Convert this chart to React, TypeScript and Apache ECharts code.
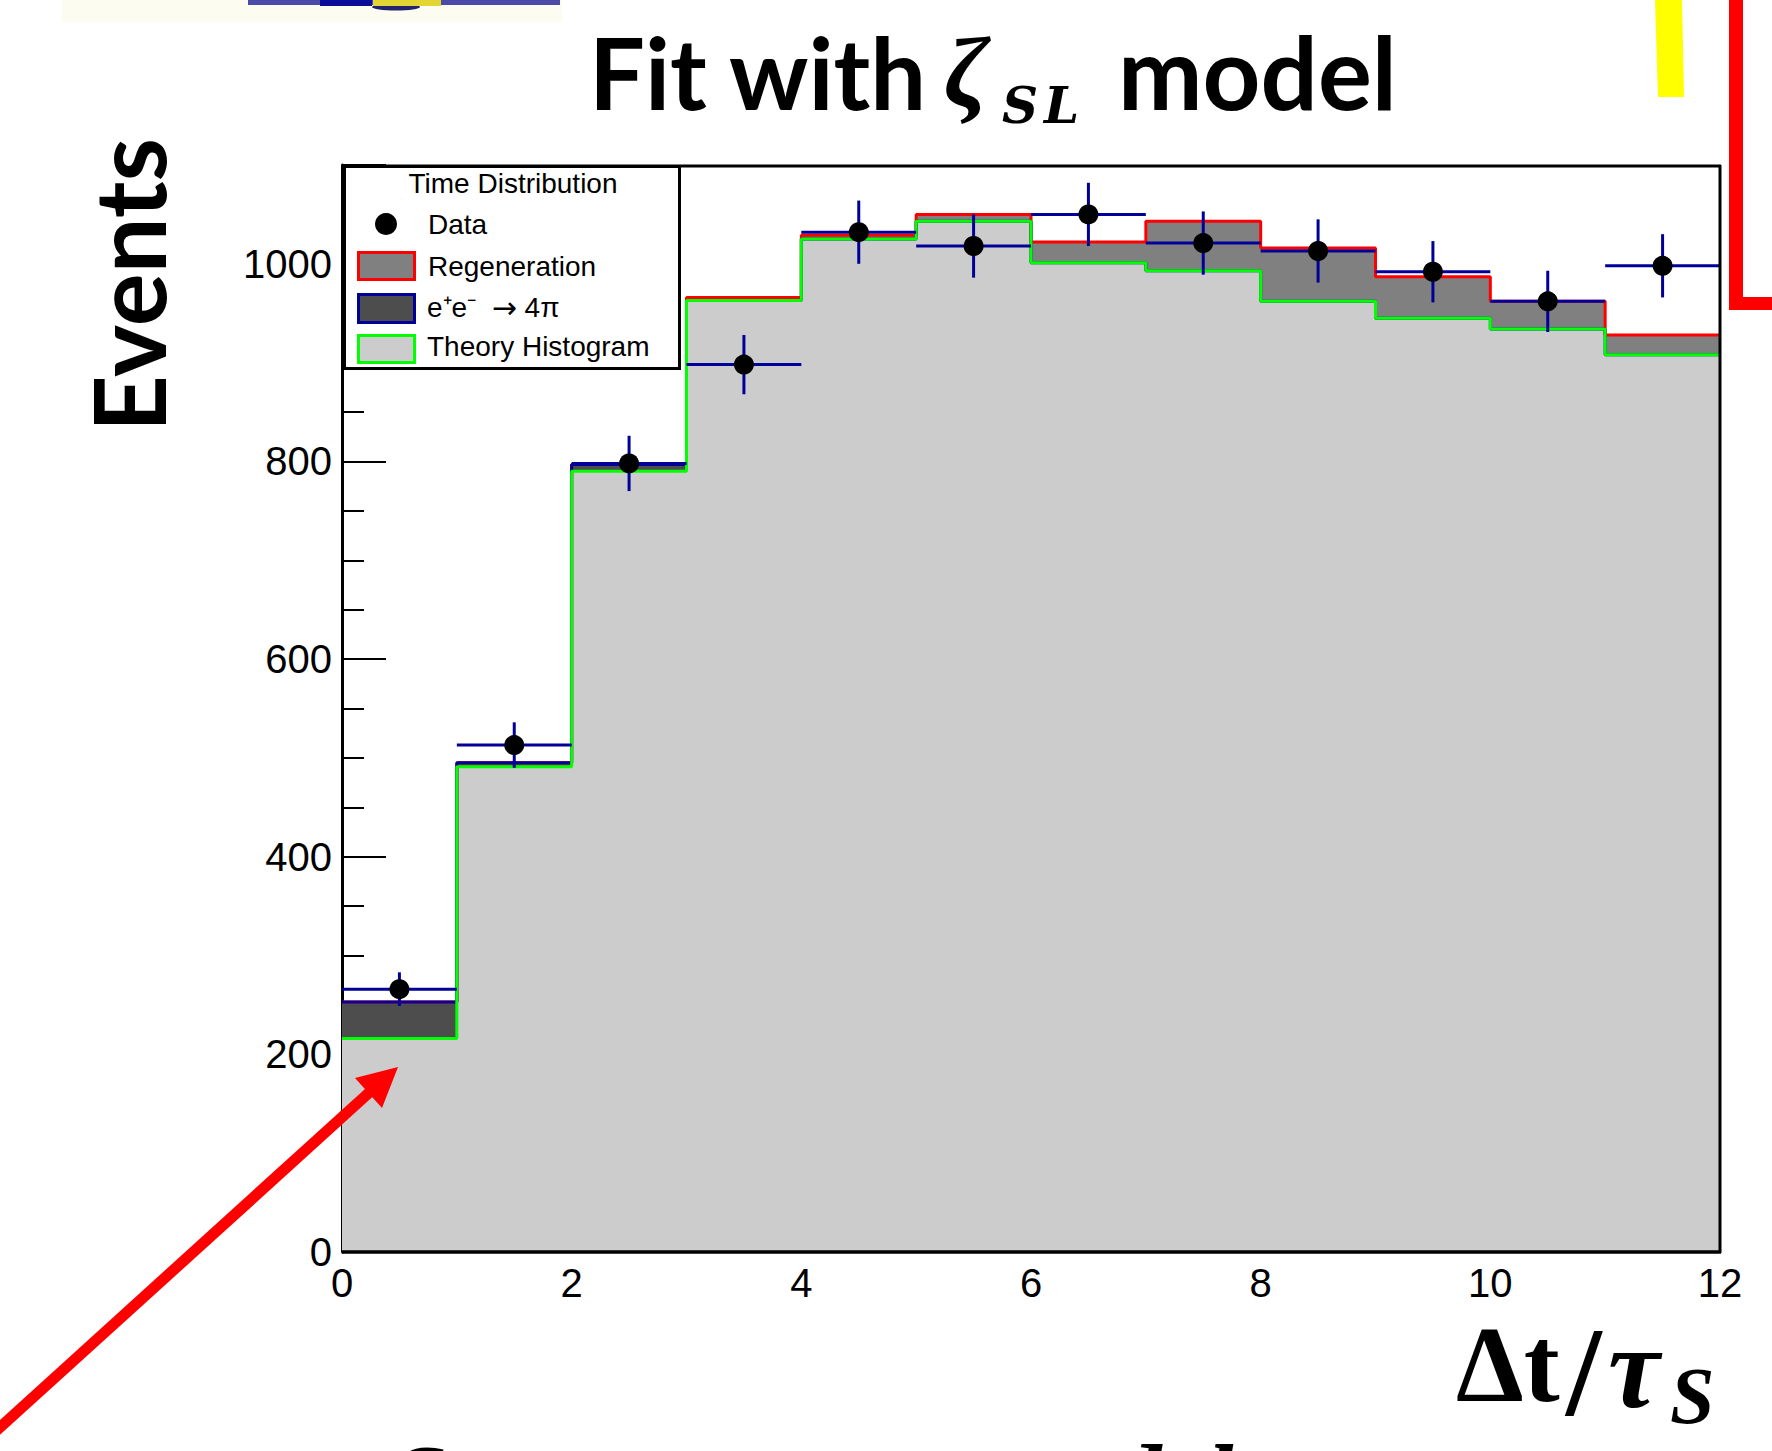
import React, { useEffect, useRef } from "react";
import * as echarts from "echarts";

// ---- data ----
const binEdges = [0, 1, 2, 3, 4, 5, 6, 7, 8, 9, 10, 11, 12];
const theoryHist = [216, 491, 790, 963, 1025, 1043, 1001, 993, 962, 945, 934, 908];
const fourPiHist = [37, 4, 7, 0, 0, 0, 0, 0, 0, 0, 0, 0];
const regenerationHist = [0, 0, 0, 3, 4, 7, 21, 50, 54, 42, 28, 20];
const dataCounts = [266, 513, 798, 898, 1032, 1018, 1050, 1021, 1013, 992, 962, 998];
const dataErrors = [17, 23, 28, 30, 32, 32, 32, 32, 32, 31, 31, 32];
const xTickLabels = [0, 2, 4, 6, 8, 10, 12];
const yTickLabels = [0, 200, 400, 600, 800, 1000];

const legendTitle = "Time Distribution";
const legendEntries = ["Data", "Regeneration", "e\u207Ae\u207B", "Theory Histogram"];

const stepPoints = (vals: number[]) => {
  const pts = vals.map((v, i) => [binEdges[i], v]);
  pts.push([binEdges[binEdges.length - 1], vals[vals.length - 1]]);
  return pts;
};

const layerTheory = theoryHist.slice();
const layerFourPi = theoryHist.map((v, i) => v + fourPiHist[i]);
const layerTotal = layerFourPi.map((v, i) => v + regenerationHist[i]);

const SANS = "'Liberation Sans', Arial, Helvetica, sans-serif";
const TITLE = "Lato, 'Noto Sans', sans-serif";
const SERIF = "'Liberation Serif', 'DejaVu Serif', serif";

export default function App() {
  const ref = useRef<HTMLDivElement>(null);
  useEffect(() => {
    document.body.style.margin = "0";
    const chart = echarts.init(ref.current!, null, { renderer: "svg" });

    const histSeries = (name: string, vals: number[], stroke: string, fill: string) => ({
      name,
      type: "line",
      step: "end",
      z: 2,
      data: stepPoints(vals),
      symbol: "none",
      lineStyle: { color: stroke, width: 3 },
      areaStyle: { color: fill, opacity: 1 },
      silent: true,
    });

    const T = (text: string, x: number, y: number, o: any = {}) => ({
      type: "text",
      x,
      y,
      z: 100,
      rotation: o.rotation || 0,
      style: {
        text,
        fontSize: o.fontSize || 28,
        fontFamily: o.fontFamily || SANS,
        fontWeight: o.fontWeight || "normal",
        fontStyle: o.fontStyle || "normal",
        fill: o.fill || "#000",
        align: o.align || "left",
        verticalAlign: "middle",
        rich: o.rich,
      },
    });

    const option: any = {
      animation: false,
      backgroundColor: "#ffffff",
      grid: { left: 342, top: 165, right: 52, bottom: 199, containLabel: false, outerBoundsMode: "none" },
      xAxis: {
        type: "value",
        min: 0,
        max: 12,
        interval: 2,
        axisLine: { show: false },
        axisTick: { show: false },
        splitLine: { show: false },
        axisLabel: {
          fontSize: 40,
          fontFamily: SANS,
          color: "#000",
          margin: 11,
          formatter: (v: number) => (xTickLabels.includes(v) ? String(v) : ""),
        },
      },
      yAxis: {
        type: "value",
        min: 0,
        max: 1100,
        interval: 200,
        axisLine: { show: true, lineStyle: { color: "#000", width: 3 } },
        axisTick: { show: true, inside: true, length: 44, lineStyle: { color: "#000", width: 2 } },
        minorTick: { show: true, splitNumber: 4, length: 22, lineStyle: { color: "#000", width: 2 } },
        splitLine: { show: false },
        axisLabel: {
          fontSize: 40,
          fontFamily: SANS,
          color: "#000",
          margin: 10,
          formatter: (v: number) => (yTickLabels.includes(v) ? String(v) : ""),
        },
      },
      series: [
        histSeries("Regeneration", layerTotal, "#ff0000", "#808080"),
        histSeries("e+e- -> 4pi", layerFourPi, "#000099", "#4d4d4d"),
        histSeries("Theory Histogram", layerTheory, "#00ff00", "#cccccc"),
        {
          name: "Data errors",
          type: "custom",
          silent: true,
          z: 5,
          encode: { x: 0, y: 1 },
          data: dataCounts.map((v, i) => [
            (binEdges[i] + binEdges[i + 1]) / 2,
            v,
            dataErrors[i],
            binEdges[i],
            binEdges[i + 1],
          ]),
          renderItem: (params: any, api: any) => {
            const x = api.value(0);
            const y = api.value(1);
            const e = api.value(2);
            const lo = api.coord([api.value(3), y]);
            const hi = api.coord([api.value(4), y]);
            const top = api.coord([x, y + e]);
            const bot = api.coord([x, y - e]);
            const st = { stroke: "#000099", lineWidth: 3 };
            return {
              type: "group",
              children: [
                { type: "line", shape: { x1: lo[0], y1: lo[1], x2: hi[0], y2: hi[1] }, style: st },
                { type: "line", shape: { x1: top[0], y1: top[1], x2: bot[0], y2: bot[1] }, style: st },
              ],
            };
          },
        },
        {
          name: "Data",
          type: "scatter",
          symbol: "circle",
          symbolSize: 20,
          z: 6,
          itemStyle: { color: "#000", opacity: 1 },
          silent: true,
          data: dataCounts.map((v, i) => [(binEdges[i] + binEdges[i + 1]) / 2, v]),
        },
      ],
      graphic: [
        // frame (top, right, bottom)
        { type: "line", z: 100, shape: { x1: 342, y1: 166, x2: 1721, y2: 166 }, style: { stroke: "#000", lineWidth: 3 } },
        { type: "line", z: 100, shape: { x1: 1720, y1: 165, x2: 1720, y2: 1253 }, style: { stroke: "#000", lineWidth: 3 } },
        { type: "line", z: 100, shape: { x1: 342, y1: 1252, x2: 1721, y2: 1252 }, style: { stroke: "#000", lineWidth: 3.5 } },

        // legend
        { type: "rect", z: 100, shape: { x: 344.5, y: 166.5, width: 335, height: 202 }, style: { fill: "#fff", stroke: "#000", lineWidth: 3 } },
        T(legendTitle, 513, 183, { align: "center" }),
        { type: "circle", z: 101, shape: { cx: 386, cy: 224, r: 11 }, style: { fill: "#000" } },
        T(legendEntries[0], 428, 224),
        { type: "rect", z: 101, shape: { x: 358.5, y: 252.5, width: 56, height: 27 }, style: { fill: "#808080", stroke: "#ff0000", lineWidth: 3 } },
        T(legendEntries[1], 428, 266),
        { type: "rect", z: 101, shape: { x: 358.5, y: 294.5, width: 56, height: 28 }, style: { fill: "#4d4d4d", stroke: "#000099", lineWidth: 3 } },
        T("{a|" + legendEntries[2] + "  }{b|\u2192}{a| 4\u03C0}", 427, 307, {
          rich: {
            a: { fontSize: 28, fontFamily: SANS, fill: "#000" },
            b: { fontSize: 30, fontFamily: "'DejaVu Sans', sans-serif", fill: "#000" },
          },
        }),
        { type: "rect", z: 101, shape: { x: 358.5, y: 335.5, width: 56, height: 27 }, style: { fill: "#cccccc", stroke: "#00ff00", lineWidth: 3 } },
        T(legendEntries[3], 427, 346),

        // title
        T("Fit with", 589, 71, { fontSize: 99, fontFamily: TITLE, fontWeight: "bold" }),
        T("\u03B6", 944, 72, { fontSize: 100, fontFamily: SERIF, fontWeight: "bold", fontStyle: "italic" }),
        T("S", 1002, 105, { fontSize: 50, fontFamily: "'DejaVu Serif', serif", fontWeight: "bold", fontStyle: "italic" }),
        T("L", 1044, 105, { fontSize: 50, fontFamily: "'DejaVu Serif', serif", fontWeight: "bold", fontStyle: "italic" }),
        T("model", 1118, 71, { fontSize: 101, fontFamily: TITLE, fontWeight: "bold" }),

        // y axis title
        T("Events", 127, 285, { fontSize: 99, fontFamily: TITLE, fontWeight: "bold", align: "center", rotation: Math.PI / 2 }),

        // x axis title
        T("\u0394t", 1456, 1364, { fontSize: 108, fontFamily: SERIF, fontWeight: "bold" }),
        T("/", 1566, 1372, { fontSize: 128, fontFamily: SERIF, fontWeight: "bold" }),
        T("\u03C4", 1608, 1368, { fontSize: 116, fontFamily: SERIF, fontWeight: "bold", fontStyle: "italic" }),
        T("S", 1670, 1396, { fontSize: 80, fontFamily: SERIF, fontWeight: "bold", fontStyle: "italic" }),

        // cropped text at the bottom edge
        T("Same error at model", 392, 1479, { fontSize: 100, fontFamily: SERIF, fontWeight: "bold", fontStyle: "italic" }),

        // red arrow
        { type: "line", z: 110, shape: { x1: -4, y1: 1431, x2: 372, y2: 1090 }, style: { stroke: "#ff0000", lineWidth: 11 } },
        { type: "polygon", z: 110, shape: { points: [[398, 1067], [355, 1078], [382, 1108]] }, style: { fill: "#ff0000" } },

        // yellow bar and red bracket (top right)
        { type: "polygon", z: 110, shape: { points: [[1655, 0], [1682, 0], [1684, 97], [1658, 97]] }, style: { fill: "#ffff00" } },
        { type: "rect", z: 110, shape: { x: 1729, y: 0, width: 14, height: 310 }, style: { fill: "#ff0000" } },
        { type: "rect", z: 110, shape: { x: 1729, y: 297, width: 43, height: 13 }, style: { fill: "#ff0000" } },

        // cropped picture at the top-left edge
        { type: "rect", z: 110, shape: { x: 62, y: 0, width: 500, height: 22 }, style: { fill: "#fcfcf0" } },
        { type: "rect", z: 111, shape: { x: 248, y: 0, width: 312, height: 5 }, style: { fill: "#4a4aa8" } },
        { type: "rect", z: 111, shape: { x: 320, y: 0, width: 52, height: 6 }, style: { fill: "#0c0c9a" } },
        { type: "ellipse", z: 111, shape: { cx: 396, cy: 7, rx: 24, ry: 3.5 }, style: { fill: "#24246e" } },
        { type: "rect", z: 112, shape: { x: 373, y: 0, width: 68, height: 6 }, style: { fill: "#e3d534" } },
      ],
    };

    chart.setOption(option);
    return () => chart.dispose();
  }, []);

  return <div ref={ref} style={{ width: 1772, height: 1451, background: "#fff" }} />;
}
